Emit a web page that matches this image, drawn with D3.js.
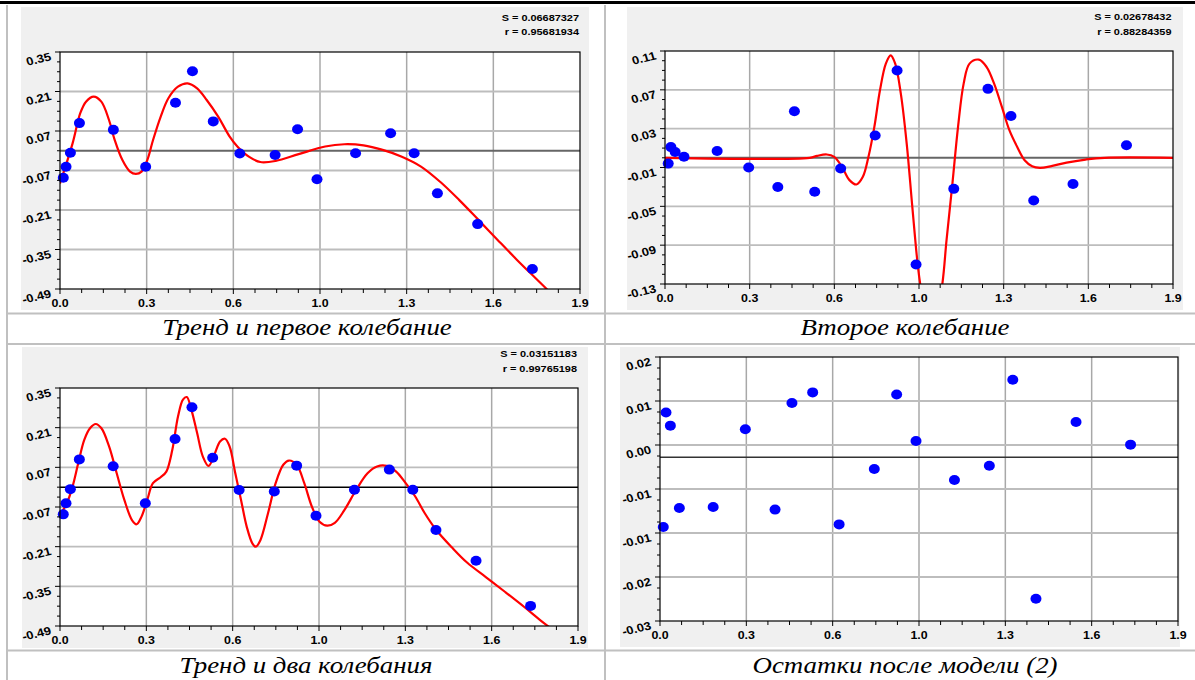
<!DOCTYPE html>
<html><head><meta charset="utf-8">
<script src="https://cdn.jsdelivr.net/npm/d3@7/dist/d3.min.js"></script>
<style>
html,body{margin:0;padding:0;background:#fff;}
svg{display:block;}
</style></head>
<body>
<svg id="chart" width="1195" height="680"></svg>
<script>
// ---------- DATA ----------
const xValues = [0.012,0.022,0.038,0.071,0.195,0.313,0.422,0.484,0.560,0.657,0.786,0.868,0.939,1.080,1.208,1.294,1.379,1.526,1.726];
const seriesData = [-0.096,-0.057,-0.007,0.098,0.074,-0.057,0.170,0.282,0.104,-0.010,-0.015,0.076,-0.101,-0.009,0.062,-0.009,-0.151,-0.260,-0.419];
const secondOsc = [-0.006,0.011,0.006,0.001,0.007,-0.010,-0.030,0.048,-0.035,-0.011,0.023,0.090,-0.110,-0.032,0.071,0.043,-0.044,-0.027,0.013];
const residuals = [-0.0122,0.0095,0.0070,-0.0086,-0.0084,0.0063,-0.0089,0.0113,0.0133,-0.0117,-0.0012,0.0129,0.0041,-0.0033,-0.0006,0.0157,-0.0258,0.0077,0.0034];

const curve1X = [0,0.046,0.074,0.095,0.123,0.151,0.179,0.200,0.228,0.256,0.277,0.298,0.319,0.340,0.368,0.396,0.431,0.466,0.501,0.536,0.578,0.620,0.648,0.690,0.732,0.788,0.872,0.969,1.039,1.109,1.179,1.249,1.319,1.389,1.459,1.529,1.599,1.669,1.738,1.780,1.82];
const curve1Y = [-0.116,0.026,0.133,0.174,0.192,0.174,0.109,0.038,-0.033,-0.074,-0.082,-0.074,-0.033,0.038,0.121,0.186,0.227,0.239,0.221,0.180,0.121,0.050,0.015,-0.021,-0.040,-0.036,-0.012,0.015,0.023,0.019,0.003,-0.021,-0.056,-0.110,-0.175,-0.245,-0.316,-0.386,-0.452,-0.492,-0.53];

const curve2X = [0,0.541,0.569,0.605,0.633,0.662,0.690,0.716,0.740,0.761,0.783,0.804,0.826,0.844,0.861,0.882,0.904,0.925,0.946,0.958,0.996,1.036,1.053,1.075,1.096,1.117,1.139,1.174,1.203,1.231,1.260,1.288,1.317,1.345,1.373,1.402,1.445,1.502,1.573,1.644,1.9];
const curve2Y = [0,0,0.002,0.0034,0.001,-0.0093,-0.023,-0.0275,-0.0196,0.001,0.0318,0.0695,0.097,0.1055,0.097,0.0661,0.0147,-0.0505,-0.1122,-0.1362,-0.19,-0.1327,-0.0847,-0.0265,0.0318,0.0764,0.097,0.1011,0.0935,0.0764,0.0524,0.0284,0.0113,-0.0025,-0.0086,-0.0103,-0.0086,-0.0049,-0.0018,0,0];

const curve3X = [0.004,0.025,0.046,0.067,0.089,0.110,0.131,0.152,0.180,0.208,0.236,0.264,0.281,0.299,0.320,0.341,0.369,0.390,0.412,0.433,0.451,0.465,0.482,0.503,0.524,0.545,0.566,0.587,0.605,0.622,0.643,0.664,0.685,0.706,0.718,0.735,0.763,0.791,0.819,0.840,0.868,0.896,0.924,0.952,0.980,1.008,1.043,1.086,1.128,1.163,1.198,1.233,1.268,1.303,1.338,1.380,1.437,1.493,1.563,1.633,1.703,1.760,1.816];
const curve3Y = [-0.092,-0.057,0.002,0.085,0.167,0.208,0.223,0.208,0.144,0.049,-0.045,-0.116,-0.131,-0.104,-0.045,0.014,0.035,0.055,0.132,0.250,0.309,0.318,0.273,0.191,0.108,0.075,0.114,0.161,0.171,0.144,0.049,-0.045,-0.140,-0.199,-0.210,-0.187,-0.092,0.014,0.079,0.094,0.079,0.014,-0.069,-0.122,-0.136,-0.126,-0.081,-0.010,0.049,0.073,0.075,0.055,0.014,-0.033,-0.092,-0.151,-0.212,-0.266,-0.318,-0.370,-0.423,-0.468,-0.510];

const xTickLabels = ["0.0","0.3","0.6","1.0","1.3","1.6","1.9"];
const yTickLabelsA = ["-0.49","-0.35","-0.21","-0.07","0.07","0.21","0.35"];
const yTickLabelsB = ["-0.13","-0.09","-0.05","-0.01","0.03","0.07","0.11"];
const yTickLabelsC = ["-0.03","-0.02","-0.01","-0.01","0.00","0.01","0.02"];
const stats1 = ["S = 0.06687327","r = 0.95681934"];
const stats2 = ["S = 0.02678432","r = 0.88284359"];
const stats3 = ["S = 0.03151183","r = 0.99765198"];
const captions = ["Тренд и первое колебание","Второе колебание","Тренд и два колебания","Остатки после модели (2)"];
const baselines = [0,0,0,0.001];

// ---------- LAYOUT ----------
const svg = d3.select("#chart");
const FONT = "'Liberation Sans', Arial, sans-serif";
const SX = 1.13;

svg.append("rect").attr("x",0).attr("y",1).attr("width",1195).attr("height",3).attr("fill","#000");
const borderColor = "#c0c0c0";
[[7,5,7,680],[605,5,605,680]].forEach(l=>svg.append("line").attr("x1",l[0]).attr("y1",l[1]).attr("x2",l[2]).attr("y2",l[3]).attr("stroke",borderColor).attr("stroke-width",2));
[313.5,344,650.5].forEach(y=>svg.append("line").attr("x1",6).attr("x2",1195).attr("y1",y).attr("y2",y).attr("stroke",borderColor).attr("stroke-width",2));

const panels = [
  {bg:[21,7,589,310], plot:[60,52,580,289], ydom:[-0.49,0.35], ylab:yTickLabelsA, ys:seriesData, cx:curve1X, cy:curve1Y, stats:stats1, statX:579, statY:[20.5,35], zero:{c:"#666",w:2}, base:baselines[0]},
  {bg:[627,7,1183,310], plot:[665,51,1173,284], ydom:[-0.13,0.11], ylab:yTickLabelsB, ys:secondOsc, cx:curve2X, cy:curve2Y, stats:stats2, statX:1171.5, statY:[20,34.5], zero:{c:"#666",w:2}, base:baselines[1]},
  {bg:[22,347,588,648], plot:[60,388,578,626], ydom:[-0.49,0.35], ylab:yTickLabelsA, ys:seriesData, cx:curve3X, cy:curve3Y, stats:stats3, statX:577, statY:[357,372], zero:{c:"#000",w:1.5}, base:baselines[2]},
  {bg:[620,347,1180,647], plot:[660,357,1178,621], ydom:[-0.03,0.02], ylab:yTickLabelsC, ys:residuals, cx:null, cy:null, stats:null, zero:{c:"#333",w:1.5}, base:baselines[3]}
];

panels.forEach((p,pi)=>{
  const g = svg.append("g");
  const [bx0,by0,bx1,by1] = p.bg;
  const [x0,y0,x1,y1] = p.plot;
  g.append("rect").attr("x",bx0).attr("y",by0).attr("width",bx1-bx0).attr("height",by1-by0).attr("fill","#f0f0f0");
  g.append("rect").attr("x",x0).attr("y",y0).attr("width",x1-x0).attr("height",y1-y0).attr("fill","#fff");

  const x = d3.scaleLinear().domain([0,1.9]).range([x0,x1]);
  const y = d3.scaleLinear().domain(p.ydom).range([y1,y0]);
  const xt = d3.range(7).map(i=>1.9*i/6);
  const yt = d3.range(7).map(i=>p.ydom[0]+(p.ydom[1]-p.ydom[0])*i/6);
  const xm = d3.range(25).map(i=>1.9*i/24);
  const ym = d3.range(25).map(i=>p.ydom[0]+(p.ydom[1]-p.ydom[0])*i/24);

  g.selectAll(null).data(xt.slice(1,6)).enter().append("line")
    .attr("x1",d=>x(d)).attr("x2",d=>x(d)).attr("y1",y0).attr("y2",y1)
    .attr("stroke","#a8a8a8").attr("stroke-width",1.5);
  g.selectAll(null).data(yt.slice(1,6)).enter().append("line")
    .attr("y1",d=>y(d)).attr("y2",d=>y(d)).attr("x1",x0).attr("x2",x1)
    .attr("stroke","#bdbdbd").attr("stroke-width",1.8);

  g.append("line").attr("x1",x0).attr("x2",x1).attr("y1",y(p.base)).attr("y2",y(p.base))
    .attr("stroke",p.zero.c).attr("stroke-width",p.zero.w);

  const cid = "clip"+pi;
  svg.append("clipPath").attr("id",cid).append("rect").attr("x",x0).attr("y",y0).attr("width",x1-x0).attr("height",y1-y0);

  if(p.cx){
    const pts = p.cx.map((v,i)=>[v,p.cy[i]]);
    const line = d3.line().x(d=>x(d[0])).y(d=>y(d[1])).curve(d3.curveCatmullRom.alpha(0.5));
    g.append("path").attr("d",line(pts)).attr("fill","none").attr("stroke","#ff0000").attr("stroke-width",2.2)
      .attr("clip-path","url(#"+cid+")");
  }

  g.selectAll(null).data(xValues.map((v,i)=>[v,p.ys[i]])).enter().append("ellipse")
    .attr("cx",d=>x(d[0])).attr("cy",d=>y(d[1])).attr("rx",5.5).attr("ry",5).attr("fill","#0000ff");

  g.append("rect").attr("x",x0).attr("y",y0).attr("width",x1-x0).attr("height",y1-y0)
    .attr("fill","none").attr("stroke","#000").attr("stroke-width",1.2);

  g.selectAll(null).data(ym).enter().append("line")
    .attr("x1",(d,i)=>x0-(i%4===0?5:3)).attr("x2",x0).attr("y1",d=>y(d)).attr("y2",d=>y(d))
    .attr("stroke","#000").attr("stroke-width",1);
  g.selectAll(null).data(xm).enter().append("line")
    .attr("y1",y1).attr("y2",(d,i)=>y1+(i%4===0?5:4)).attr("x1",d=>x(d)).attr("x2",d=>x(d))
    .attr("stroke","#000").attr("stroke-width",1);

  g.selectAll(null).data(xt).enter().append("text")
    .attr("transform",d=>`translate(${x(d)},${y1+18}) scale(${SX},1)`).attr("text-anchor","middle")
    .attr("font-family",FONT).attr("font-weight","bold").attr("font-size",11)
    .text((d,i)=>xTickLabels[i]);
  g.selectAll(null).data(yt).enter().append("text")
    .attr("transform",d=>`translate(${x0-8},${y(d)+8}) scale(${SX},1) rotate(-15)`)
    .attr("text-anchor","end")
    .attr("font-family",FONT).attr("font-weight","bold").attr("font-size",11.5)
    .text((d,i)=>p.ylab[i]);

  if(p.stats){
    p.stats.forEach((s,i)=>g.append("text")
      .attr("transform",`translate(${p.statX},${p.statY[i]}) scale(1.15,1)`)
      .attr("text-anchor","end").attr("font-family",FONT).attr("font-weight","bold").attr("font-size",9.5)
      .text(s));
  }
});

const capPos = [[307,335],[905,335],[306,673],[905,673]];
captions.forEach((c,i)=>svg.append("text")
  .attr("transform",`translate(${capPos[i][0]},${capPos[i][1]}) scale(1.12,1)`)
  .attr("text-anchor","middle").attr("font-family","'Liberation Serif','Times New Roman',serif")
  .attr("font-style","italic").attr("font-size",24).text(c));
</script>
</body></html>
